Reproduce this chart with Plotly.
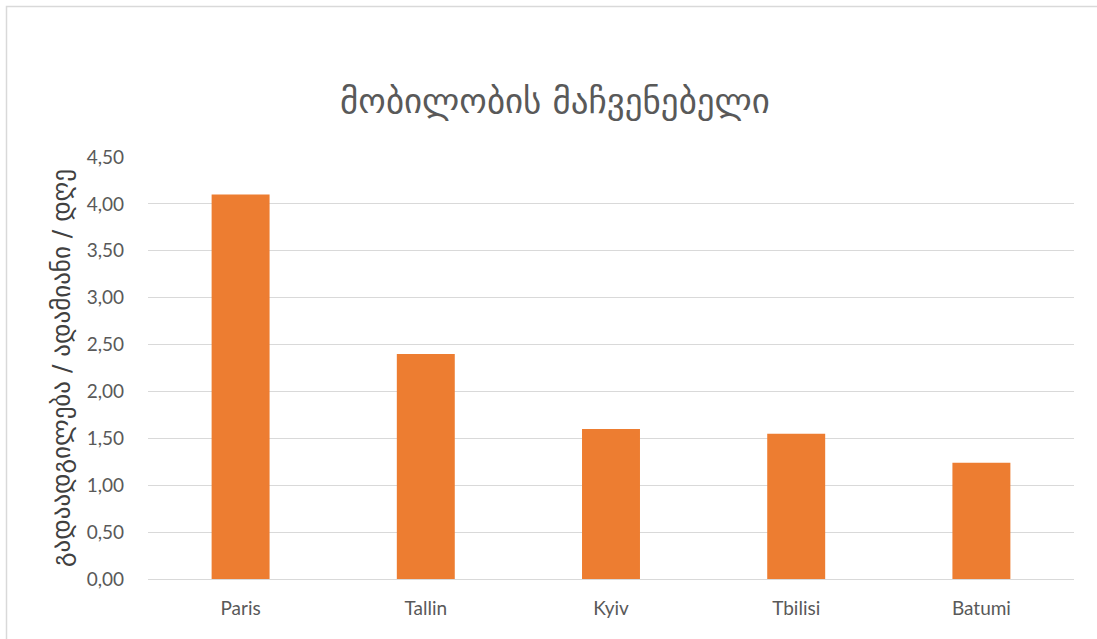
import plotly.graph_objects as go

# Mobility indicator by city
cities = ["Paris", "Tallin", "Kyiv", "Tbilisi", "Batumi"]
trips_per_person_day = [4.10, 2.40, 1.60, 1.55, 1.24]
y_ticks = [0, 0.5, 1.0, 1.5, 2.0, 2.5, 3.0, 3.5, 4.0, 4.5]
y_tick_labels = ["0,00", "0,50", "1,00", "1,50", "2,00", "2,50", "3,00", "3,50", "4,00", "4,50"]

chart_title = "მობილობის მაჩვენებელი"
y_title = "გადაადგილება / ადამიანი / დღე"

W, H = 1097, 639
L, R, T, B = 148, 23, 157, 60
plot_w = W - L - R
plot_h = H - T - B

def px_x(p):
    return (p - L) / plot_w

def px_y(p):
    return (H - B - p) / plot_h

fig = go.Figure(
    go.Bar(
        x=cities,
        y=trips_per_person_day,
        marker=dict(color="#ED7D31", line=dict(width=0)),
        hoverinfo="x+y",
    )
)

fig.update_layout(
    width=W,
    height=H,
    margin=dict(l=L, r=R, t=T, b=B),
    paper_bgcolor="white",
    plot_bgcolor="white",
    bargap=0.687,
    showlegend=False,
    font=dict(family="Lato, DejaVu Sans, sans-serif", color="#595959", size=19),
    title=dict(
        text=chart_title,
        x=555 / W,
        xref="container",
        xanchor="center",
        y=1 - 101 / H,
        yref="container",
        yanchor="middle",
        font=dict(family="DejaVu Sans, sans-serif", size=35, color="#595959"),
    ),
    shapes=[
        dict(
            type="rect",
            xref="paper",
            yref="paper",
            x0=px_x(6.5),
            x1=px_x(1104),
            y0=px_y(646),
            y1=px_y(6.5),
            line=dict(color="#D9D9D9", width=1.5),
            fillcolor="rgba(0,0,0,0)",
            layer="below",
        )
    ],
)

fig.update_xaxes(
    showgrid=False,
    showline=False,
    zeroline=False,
    ticks="",
    ticklabelstandoff=16,
    tickfont=dict(size=19, color="#595959"),
)

fig.update_yaxes(
    range=[0, 4.5],
    tickvals=y_ticks,
    ticktext=y_tick_labels,
    showgrid=True,
    gridcolor="#D9D9D9",
    gridwidth=1,
    zeroline=True,
    zerolinecolor="#D9D9D9",
    zerolinewidth=1,
    showline=False,
    ticks="",
    ticklabelstandoff=23,
    tickfont=dict(size=19, color="#595959"),
    title=dict(
        text=y_title,
        standoff=8,
        font=dict(family="DejaVu Sans, sans-serif", size=25, color="#404040"),
    ),
)

fig.write_html("out.html")
